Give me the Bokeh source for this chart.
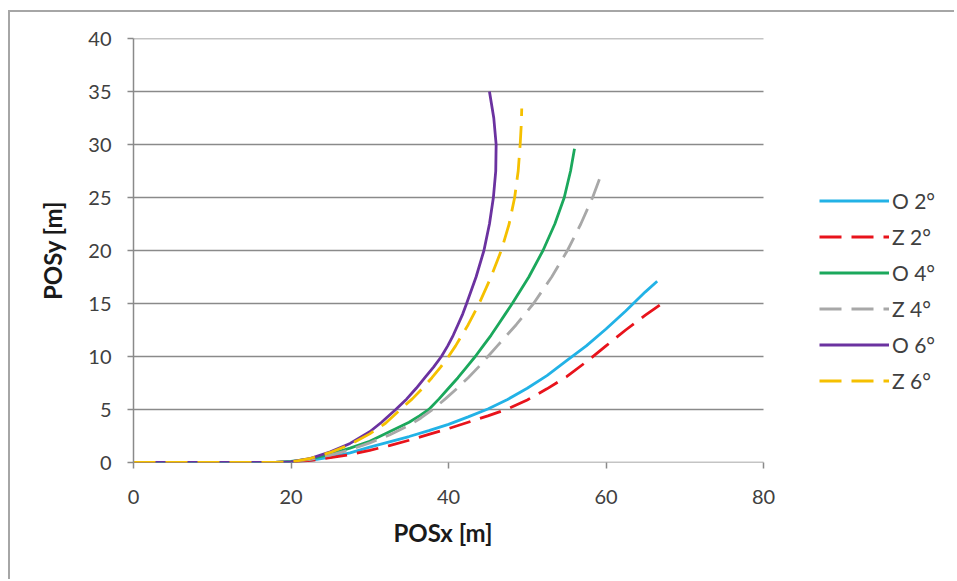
from bokeh.plotting import figure
from bokeh.models import Legend, LegendItem, Range1d, FixedTicker, Title
from bokeh.embed import file_html
from bokeh.resources import INLINE

# ---- data ----
o2_x = [0, 10, 18, 20, 22.5, 25, 27.5, 30, 32.5, 35, 37.5, 40, 42.5, 45, 47.5, 50, 52.5, 55, 57.5, 60, 62.5, 65, 66.5]
o2_y = [0, 0, 0, 0.05, 0.2, 0.5, 0.9, 1.45, 1.95, 2.45, 3.0, 3.6, 4.3, 5.05, 5.95, 7.0, 8.2, 9.6, 11.0, 12.6, 14.3, 16.1, 17.1]

z2_x = [0, 10, 18, 20, 22.5, 25, 27.5, 30, 32.5, 35, 37.5, 40, 42.5, 45, 47.5, 50, 52.5, 55, 57.5, 60, 62.5, 65, 67.3]
z2_y = [0, 0, 0, 0.05, 0.2, 0.45, 0.75, 1.15, 1.6, 2.1, 2.65, 3.2, 3.8, 4.4, 5.05, 5.9, 6.95, 8.1, 9.5, 11.0, 12.5, 13.9, 15.1]

o4_x = [0, 10, 18, 20, 22.5, 25, 27.5, 30, 32.5, 35, 36.3, 37.5, 38.8, 40.0, 41.2, 42.3, 43.4, 44.4, 45.4, 46.3, 47.2, 48.1, 50.2, 52.0, 53.5, 54.7, 55.5, 56.0]
o4_y = [0, 0, 0, 0.1, 0.35, 0.8, 1.35, 2.0, 2.9, 3.8, 4.4, 5.0, 6, 7, 8, 9, 10, 11, 12, 13, 14, 15, 17.5, 20, 22.5, 25, 27.5, 29.6]

z4_x = [0, 10, 18, 20, 22.5, 25, 27.5, 30, 32.5, 35, 36.5, 38.0, 39.6, 41.1, 42.5, 43.8, 45.0, 46.2, 47.4, 48.6, 49.7, 50.8, 53.1, 55.1, 56.8, 58.3, 59.2]
z4_y = [0, 0, 0, 0.1, 0.3, 0.7, 1.2, 1.85, 2.6, 3.5, 4.2, 5, 6, 7, 8, 9, 10, 11, 12, 13, 14, 15, 17.5, 20, 22.5, 25, 26.8]

o6_x = [0, 10, 18, 20, 22.5, 25, 27.5, 30, 31.5, 33.3, 34.7, 35.9, 37.0, 38.1, 39.1, 39.9, 40.6, 41.2, 41.8, 42.3, 43.5, 44.5, 45.2, 45.7, 46.0, 46.05, 45.75, 45.2]
o6_y = [0, 0, 0, 0.05, 0.4, 1.0, 1.8, 2.9, 3.8, 5, 6, 7, 8, 9, 10, 11, 12, 13, 14, 15, 17.5, 20, 22.5, 25, 27.5, 30, 32.5, 35]

z6_x = [0, 10, 18, 20, 22.5, 25, 27.5, 30, 32, 33.9, 35.4, 36.7, 37.9, 39.0, 40.0, 40.9, 41.7, 42.5, 43.2, 43.9, 45.4, 46.7, 47.7, 48.4, 48.85, 49.1, 49.25, 49.3]
z6_y = [0, 0, 0, 0.05, 0.4, 0.95, 1.7, 2.7, 3.7, 5, 6, 7, 8, 9, 10, 11, 12, 13, 14, 15, 17.5, 20, 22.5, 25, 27.5, 30, 32, 33.4]

series_names = ["O 2°", "Z 2°", "O 4°", "Z 4°", "O 6°", "Z 6°"]
x_ticks = [0, 20, 40, 60, 80]
y_ticks = [0, 5, 10, 15, 20, 25, 30, 35, 40]
x_max = 80
y_max = 40
x_title = "POSx [m]"
y_title = "POSy [m]"

colors = ["#22B2E6", "#E8131B", "#1BA85C", "#A8A8A8", "#6B32A0", "#F5C000"]
dashes = ["solid", "22 10", "solid", "22 10", "solid", "22 10"]

FONT = "Lato"
TXT = "#404040"
GRID = "#8A8A8A"

W, H = 946, 569
LEFT, TOP, BOTTOM = 123, 26, 119
AXIS_W = 630  # pixel width of the 0..80 axis span
frame_w = W - LEFT
x_end = x_max * frame_w / AXIS_W

p = figure(width=W, height=H, output_backend="svg", toolbar_location=None,
           x_range=Range1d(0, x_end), y_range=Range1d(0, y_max),
           min_border_left=LEFT, min_border_right=0, min_border_top=TOP, min_border_bottom=BOTTOM)
p.styles = {"border-top": "2px solid #A6A6A6", "border-left": "2px solid #A6A6A6",
            "margin-left": "8px", "margin-top": "10px"}
p.outline_line_color = None
p.background_fill_color = "white"
p.border_fill_color = "white"

p.xgrid.grid_line_color = None
p.ygrid.grid_line_color = None
p.xaxis.ticker = FixedTicker(ticks=x_ticks)
p.yaxis.ticker = FixedTicker(ticks=y_ticks)

# horizontal gridlines limited to the 0..80 span
p.segment(x0=[0] * len(y_ticks), x1=[x_max] * len(y_ticks), y0=y_ticks, y1=y_ticks,
          line_color=GRID, line_width=1.5)

for ax in (p.xaxis[0], p.yaxis[0]):
    ax.axis_line_color = GRID
    ax.axis_line_width = 1.5
    ax.major_tick_line_color = GRID
    ax.major_tick_line_width = 1.5
    ax.major_tick_out = 6
    ax.major_tick_in = 0
    ax.minor_tick_line_color = None
    ax.major_label_text_font = FONT
    ax.major_label_text_font_size = "20px"
    ax.major_label_text_color = TXT
    ax.axis_label_text_font = FONT
    ax.axis_label_text_font_size = "24px"
    ax.axis_label_text_font_style = "bold"
    ax.axis_label_text_color = "#1a1a1a"
p.xaxis.axis_line_color = None

p.yaxis.axis_label = y_title
p.xaxis.major_label_standoff = 21
p.yaxis.major_label_standoff = 16
p.yaxis.axis_label_standoff = 18

# x-axis title centred under the 0..80 span (the frame is wider to hold the legend)
xt = Title(text=x_title, align="left", offset=260, standoff=18,
           text_font=FONT, text_font_size="24px", text_font_style="bold", text_color="#1a1a1a")
p.add_layout(xt, "below")

xs = [o2_x, z2_x, o4_x, z4_x, o6_x, z6_x]
ys = [o2_y, z2_y, o4_y, z4_y, o6_y, z6_y]
items = []
for name, xv, yv, c, d in zip(series_names, xs, ys, colors, dashes):
    r = p.line(xv, yv, line_color=c, line_width=2.8, line_dash=d, line_join="round")
    items.append(LegendItem(label=name, renderers=[r]))

legend = Legend(items=items, location=(686, 69), glyph_width=70, glyph_height=25,
                label_height=25, label_standoff=3, spacing=11, padding=0, margin=0,
                border_line_alpha=0, background_fill_alpha=0,
                label_text_font=FONT, label_text_font_size="21px", label_text_color=TXT)
p.add_layout(legend, "center")

open("out.html", "w").write(file_html(p, INLINE))
